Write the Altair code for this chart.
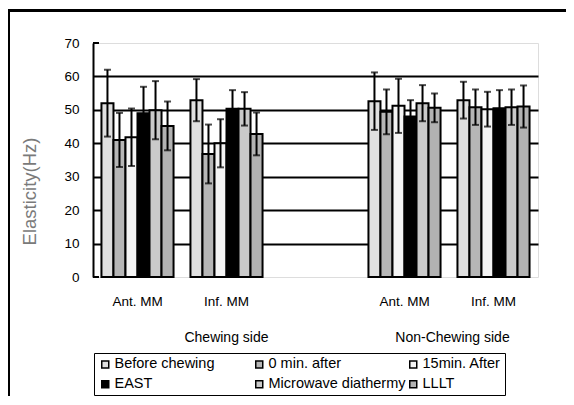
import altair as alt
import pandas as pd

# ---------------- data ----------------
series = ["Before chewing", "0 min. after", "15min. After", "EAST",
          "Microwave diathermy", "LLLT"]
fills = ["#e0e0e0", "#b6b6b6", "#f4f4f4", "#000000", "#cacaca", "#b2b2b2"]

categories = ["chew_ant", "chew_inf", "gap", "non_ant", "non_inf"]
muscle_labels = ["Ant. MM", "Inf. MM", "", "Ant. MM", "Inf. MM"]
side_labels = ["Chewing side", "Non-Chewing side"]

chew_ant_mean = [52.0, 41.0, 41.8, 49.0, 49.9, 45.2]
chew_ant_sd = [10.0, 8.1, 8.6, 7.9, 8.7, 7.3]
chew_inf_mean = [52.9, 36.8, 40.0, 50.3, 50.3, 42.8]
chew_inf_sd = [6.3, 8.8, 7.2, 5.6, 5.0, 6.4]
non_ant_mean = [52.6, 49.4, 51.2, 48.0, 52.0, 50.6]
non_ant_sd = [8.6, 6.7, 8.1, 4.9, 5.4, 4.3]
non_inf_mean = [52.9, 50.8, 50.2, 50.5, 50.8, 51.0]
non_inf_sd = [5.5, 5.3, 5.2, 5.4, 5.3, 6.3]

y_ticks = [0, 10, 20, 30, 40, 50, 60, 70]

rows = []
for cat, means, sds in [("chew_ant", chew_ant_mean, chew_ant_sd),
                        ("chew_inf", chew_inf_mean, chew_inf_sd),
                        ("non_ant", non_ant_mean, non_ant_sd),
                        ("non_inf", non_inf_mean, non_inf_sd)]:
    for s, m, sd in zip(series, means, sds):
        rows.append({"cat": cat, "series": s, "mean": m, "lo": m - sd, "hi": m + sd})
df = pd.DataFrame(rows)

label_expr = " : ".join(
    f"datum.value == '{c}' ? '{l}'" for c, l in zip(categories, muscle_labels)
) + " : ''"

FONT = "Liberation Sans"
NBSP = "\u00a0"
legend_label_expr = (
    f"datum.label == '{series[2]}' ? datum.label + '{NBSP * 11}' : datum.label"
)

x_enc = alt.X(
    "cat:N",
    scale=alt.Scale(domain=categories, paddingInner=0.19, paddingOuter=0.095),
    axis=alt.Axis(title=None, labelExpr=label_expr, labelAngle=0, labelFontSize=13.5,
                  labelPadding=17, ticks=False, tickSize=0, domain=False, grid=False,
                  labelColor="black", labelFont=FONT),
)
x_plain = alt.X("cat:N", scale=alt.Scale(domain=categories))
xoff = alt.XOffset("series:N", scale=alt.Scale(domain=series, paddingInner=0, paddingOuter=0))

y_scale = alt.Scale(domain=[0, 70], nice=False)
y_axis = alt.Axis(values=y_ticks, title="Elasticity(Hz)", titleFontSize=18.5,
                  titleFontWeight="normal", titleColor="#7a7a7a", titleFont=FONT,
                  titleAngle=270, titleX=-64, titleY=148, titleBaseline="middle",
                  titleAlign="center",
                  labelFontSize=13.5, labelColor="black", labelFont=FONT, labelPadding=14,
                  ticks=False, tickSize=0, domainColor="black", domainWidth=2,
                  grid=True, gridColor="black", gridWidth=2,
                  gridOpacity=alt.condition("datum.value == 0 || datum.value == 70",
                                            alt.value(0), alt.value(1)))


def yq(field):
    return alt.Y(f"{field}:Q", scale=y_scale, axis=y_axis, title="Elasticity(Hz)")


base = alt.Chart(df)

bars = base.mark_bar(stroke="black", strokeWidth=2).encode(
    x=x_enc,
    xOffset=xoff,
    y=yq("mean"),
    color=alt.Color(
        "series:N",
        scale=alt.Scale(domain=series, range=fills),
        legend=alt.Legend(orient="none", legendX=1, legendY=310, columns=3,
                          direction="horizontal", title=None, symbolType="square",
                          symbolSize=49, symbolStrokeColor="black", symbolStrokeWidth=1.5,
                          labelFontSize=14.5, labelFont=FONT, labelColor="black",
                          labelExpr=legend_label_expr,
                          labelOffset=2, columnPadding=0, rowPadding=5, padding=4,
                          strokeColor="black", gridAlign="all", symbolOpacity=1),
    ),
)

err = base.mark_rule(color="black", strokeWidth=2).encode(
    x=x_plain, xOffset=xoff,
    y=yq("lo"), y2="hi:Q",
)
cap_hi = base.mark_tick(color="black", size=7, thickness=2).encode(
    x=x_plain, xOffset=xoff, y=yq("hi"),
)
cap_lo = base.mark_tick(color="black", size=7, thickness=2).encode(
    x=x_plain, xOffset=xoff, y=yq("lo"),
)

# small inward ticks at the ends of the value axis
end_ticks = alt.Chart(pd.DataFrame({"v": y_ticks[::7]})).mark_rule(
    color="black", strokeWidth=2).encode(
    y=yq("v"), x=alt.value(0), x2=alt.value(6))

side_df = pd.DataFrame({"cat": ["chew_inf", "non_ant"], "label": side_labels})
side1 = alt.Chart(side_df.iloc[[0]]).mark_text(
    fontSize=14, font=FONT, color="black", baseline="middle").encode(
    x=x_plain, y=alt.value(295), text="label:N")
side2 = alt.Chart(side_df.iloc[[1]]).mark_text(
    fontSize=14, font=FONT, color="black", baseline="middle", dx=48).encode(
    x=x_plain, y=alt.value(295), text="label:N")

frame_top = alt.Chart(pd.DataFrame({"k": [0]})).mark_rule(
    color="black", strokeWidth=3).encode(
    x=alt.value(-86), x2=alt.value(480), y=alt.value(-32.5))
frame_left = alt.Chart(pd.DataFrame({"k": [0]})).mark_rule(
    color="black", strokeWidth=3).encode(
    x=alt.value(-84.5), y=alt.value(-34), y2=alt.value(360))

chart = alt.layer(
    bars, err, cap_hi, cap_lo, end_ticks, side1, side2, frame_top, frame_left
).properties(
    width=445, height=234,
    autosize=alt.AutoSizeParams(type="none"),
    padding={"left": 85, "top": 35, "right": 28, "bottom": 119},
).configure_view(
    stroke="#8a8a8a", strokeWidth=2
).configure_legend(
    strokeWidth=2
).configure(
    font=FONT
)

chart.save("out.html", embed_options={"renderer": "svg", "actions": False})
